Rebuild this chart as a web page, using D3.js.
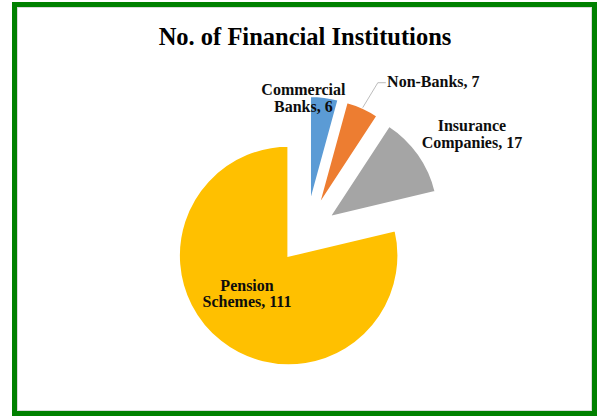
<!DOCTYPE html>
<html>
<head>
<meta charset="utf-8">
<script src="https://cdn.jsdelivr.net/npm/d3@7"></script>
<style>
  html, body { margin: 0; padding: 0; background: #fff; }
  svg { display: block; }
  text { font-family: "Liberation Serif", "Times New Roman", serif; font-weight: bold; }
</style>
</head>
<body>
<svg id="chart" width="597" height="417"></svg>
<script>
// Data
const categories = ["Commercial Banks", "Non-Banks", "Insurance Companies", "Pension Schemes"];
const values = [6, 7, 17, 111];
const labelLines = [["Commercial", "Banks, 6"], ["Non-Banks, 7"], ["Insurance", "Companies, 17"], ["Pension", "Schemes, 111"]];
const colors = ["#5B9BD5", "#ED7D31", "#A5A5A5", "#FFC000"];

// Layout
const W = 597, H = 417;
const center = { x: 306, y: 233.5 };
const radius = 110;
const explode = 28;
// label block centres, polar (degrees clockwise from 12 o'clock, distance from centre)
const labelPolar = [[-1.1, 135.7], [39.9, 198.5], [59.1, 193.4], [224.6, 84]];
const lineH = 16.5;

const svg = d3.select("#chart");

// frame
svg.append("rect").attr("x", 0).attr("y", 0).attr("width", W).attr("height", H).attr("fill", "#fff");
svg.append("rect").attr("x", 17.5).attr("y", 7.5).attr("width", 574).attr("height", 403)
  .attr("fill", "none").attr("stroke", "#d9d9d9").attr("stroke-width", 1);
svg.append("rect").attr("x", 14.5).attr("y", 4.5).attr("width", 580).attr("height", 409)
  .attr("fill", "none").attr("stroke", "#008000").attr("stroke-width", 5);

// title
svg.append("text").attr("x", 305).attr("y", 45).attr("text-anchor", "middle")
  .attr("font-size", 24.5).attr("fill", "#000").text("No. of Financial Institutions");

const pie = d3.pie().sort(null).value(d => d).startAngle(0).endAngle(2 * Math.PI);
const arcs = pie(values);
const arc = d3.arc().innerRadius(0).outerRadius(radius);

const g = svg.append("g").attr("transform", `translate(${center.x},${center.y})`);

const mid = d => (d.startAngle + d.endAngle) / 2;

g.selectAll("path.slice").data(arcs).enter().append("path")
  .attr("class", "slice")
  .attr("transform", d => `translate(${Math.sin(mid(d)) * explode},${-Math.cos(mid(d)) * explode})`)
  .attr("d", arc)
  .attr("fill", (d, i) => colors[i])
  .attr("stroke", "#fff")
  .attr("stroke-width", 2.5)
  .attr("stroke-linejoin", "miter");

// labels
const labelPos = labelPolar.map(([a, r]) => {
  const t = a * Math.PI / 180;
  return [Math.sin(t) * r, -Math.cos(t) * r];
});

// leader line for Non-Banks
{
  const i = 1, d = arcs[i];
  const m = mid(d);
  const p0 = [Math.sin(m) * (radius + explode), -Math.cos(m) * (radius + explode)];
  const textW = 93;
  const lx = labelPos[i][0] - textW / 2 - 1;
  const ly = labelPos[i][1] + 1.5;
  g.append("path")
    .attr("d", d3.line()([p0, [lx - 8, ly], [lx, ly]]))
    .attr("fill", "none").attr("stroke", "#a6a6a6").attr("stroke-width", 0.75);
}

const labels = g.selectAll("text.lbl").data(labelLines).enter().append("text")
  .attr("class", "lbl")
  .attr("text-anchor", "middle")
  .attr("font-size", 16)
  .attr("fill", "#0d0d0d");

labels.each(function (lines, i) {
  const [cx, cy] = labelPos[i];
  const y0 = cy - (lines.length - 1) * lineH / 2 + 5.5;
  d3.select(this).selectAll("tspan").data(lines).enter().append("tspan")
    .attr("x", cx).attr("y", (l, j) => y0 + j * lineH).text(l => l);
});
</script>
</body>
</html>
